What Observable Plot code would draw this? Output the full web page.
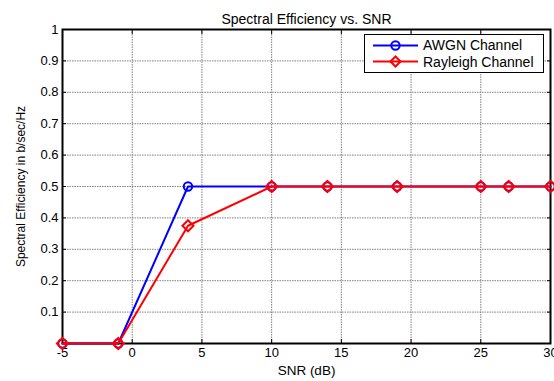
<!DOCTYPE html>
<html>
<head>
<meta charset="utf-8">
<script src="https://cdn.jsdelivr.net/npm/d3@7"></script>
<script src="https://cdn.jsdelivr.net/npm/@observablehq/plot@0.6"></script>
<style>
  html, body { margin: 0; padding: 0; background: #fff; }
  #wrap { position: relative; width: 554px; height: 381px; font-family: "Liberation Sans", Arial, sans-serif; }
  #legend { position: absolute; left: 364px; top: 34px; width: 178px; height: 37px; border: 1.5px solid #000; background: #fff; font-size: 14px; }
  #legend .row { position: absolute; left: 0; height: 17px; display: flex; align-items: center; }
  #legend svg { display: block; }
  #legend span { margin-left: 0px; color: #000; white-space: nowrap; }
</style>
</head>
<body>
<div id="wrap"></div>
<script>
const snr = [-5, -1, 4, 10, 14, 19, 25, 27, 30];
const awgn = [0, 0, 0.5, 0.5, 0.5, 0.5, 0.5, 0.5, 0.5];
const rayleigh = [0, 0, 0.375, 0.5, 0.5, 0.5, 0.5, 0.5, 0.5];
const xTicks = [-5, 0, 5, 10, 15, 20, 25, 30];
const yTicks = [0.1, 0.2, 0.3, 0.4, 0.5, 0.6, 0.7, 0.8, 0.9, 1];
const yGrid = [0, 0.1, 0.2, 0.3, 0.4, 0.5, 0.6, 0.7, 0.8, 0.9, 1];
const seriesNames = ["AWGN Channel", "Rayleigh Channel"];
const seriesColors = ["#0000ff", "#ff0000"];

const awgnData = snr.map((x, i) => ({x, y: awgn[i]}));
const rayData = snr.map((x, i) => ({x, y: rayleigh[i]}));
const noText = () => "";

const chart = Plot.plot({
  width: 554,
  height: 381,
  marginLeft: 62,
  marginRight: 4,
  marginTop: 29,
  marginBottom: 38,
  style: {fontFamily: "Liberation Sans, Arial, sans-serif", fontSize: "13px", background: "#fff", color: "#000"},
  x: {domain: [-5, 30]},
  y: {domain: [0, 1]},
  marks: [
    Plot.gridX(xTicks, {stroke: "#808080", strokeOpacity: 1, strokeDasharray: "1.5,1"}),
    Plot.gridY(yGrid, {stroke: "#808080", strokeOpacity: 1, strokeDasharray: "1.5,1"}),
    Plot.axisX(xTicks, {anchor: "bottom", tickSize: 0, tickPadding: 4, fontSize: 13, tickFormat: d => String(d), label: null}),
    Plot.axisX({anchor: "bottom", ticks: [], label: "SNR (dB)", labelAnchor: "center", labelArrow: false, labelOffset: 31, fontSize: 13.5}),
    Plot.axisX(xTicks, {anchor: "bottom", tickSize: -4, tickFormat: noText, label: null}),
    Plot.axisX(xTicks, {anchor: "top", tickSize: -4, tickFormat: noText, label: null}),
    Plot.axisY(yTicks, {anchor: "left", tickSize: 0, tickPadding: 4, fontSize: 13, tickFormat: d => String(d), label: null}),
    Plot.axisY({anchor: "left", ticks: [], label: "Spectral Efficiency in b/sec/Hz", labelAnchor: "center", labelArrow: false, labelOffset: 46, fontSize: 12}),
    Plot.axisY(yTicks, {anchor: "left", tickSize: -4, tickFormat: noText, label: null}),
    Plot.axisY(yTicks, {anchor: "right", tickSize: -4, tickFormat: noText, label: null}),
    Plot.frame({stroke: "#000", strokeWidth: 2}),
    Plot.line(awgnData, {x: "x", y: "y", stroke: seriesColors[0], strokeWidth: 2}),
    Plot.dot(awgnData, {x: "x", y: "y", stroke: seriesColors[0], strokeWidth: 2, r: 4.2, fill: "none"}),
    Plot.line(rayData, {x: "x", y: "y", stroke: seriesColors[1], strokeWidth: 2}),
    Plot.dot(rayData, {x: "x", y: "y", stroke: seriesColors[1], strokeWidth: 2, r: 5, symbol: "diamond2", fill: "none"}),
    Plot.text(["Spectral Efficiency vs. SNR"], {frameAnchor: "top", dy: -15, fontSize: 14})
  ]
});
const wrap = document.getElementById("wrap");
wrap.appendChild(chart);

const legend = document.createElement("div");
legend.id = "legend";
const symbols = ["circle", "diamond"];
seriesNames.forEach((name, i) => {
  const row = document.createElement("div");
  row.className = "row";
  row.style.top = (1.5 + i * 16.6) + "px";
  const ns = "http://www.w3.org/2000/svg";
  const svg = document.createElementNS(ns, "svg");
  svg.setAttribute("width", 58);
  svg.setAttribute("height", 17);
  const line = document.createElementNS(ns, "line");
  line.setAttribute("x1", 8); line.setAttribute("x2", 53);
  line.setAttribute("y1", 8.5); line.setAttribute("y2", 8.5);
  line.setAttribute("stroke", seriesColors[i]); line.setAttribute("stroke-width", 2);
  svg.appendChild(line);
  if (symbols[i] === "circle") {
    const c = document.createElementNS(ns, "circle");
    c.setAttribute("cx", 30.5); c.setAttribute("cy", 8.5); c.setAttribute("r", 4.2);
    c.setAttribute("fill", "none"); c.setAttribute("stroke", seriesColors[i]); c.setAttribute("stroke-width", 2);
    svg.appendChild(c);
  } else {
    const p = document.createElementNS(ns, "path");
    p.setAttribute("d", "M30.5,3.5L35.5,8.5L30.5,13.5L25.5,8.5Z");
    p.setAttribute("fill", "none"); p.setAttribute("stroke", seriesColors[i]); p.setAttribute("stroke-width", 2);
    svg.appendChild(p);
  }
  row.appendChild(svg);
  const span = document.createElement("span");
  span.textContent = name;
  row.appendChild(span);
  legend.appendChild(row);
});
wrap.appendChild(legend);
</script>
</body>
</html>
